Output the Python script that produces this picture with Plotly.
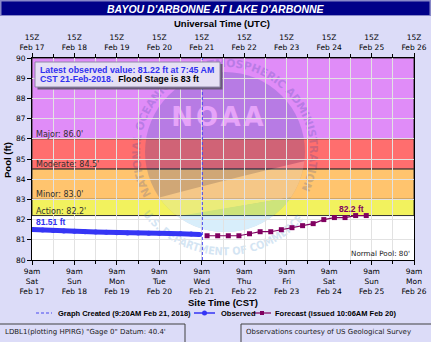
import base64
import pandas as pd
import plotly.graph_objects as go

# ---------------- data ----------------
obs_times = ["2018-02-17 09:00", "2018-02-17 15:00", "2018-02-17 21:00", "2018-02-18 03:00",
             "2018-02-18 09:00", "2018-02-18 15:00", "2018-02-18 21:00", "2018-02-19 03:00",
             "2018-02-19 09:00", "2018-02-19 15:00", "2018-02-19 21:00", "2018-02-20 03:00",
             "2018-02-20 09:00", "2018-02-20 15:00", "2018-02-20 21:00", "2018-02-21 03:00",
             "2018-02-21 07:45"]
obs_values = [81.51, 81.48, 81.46, 81.44, 81.42, 81.40, 81.38, 81.37,
              81.35, 81.34, 81.34, 81.33, 81.32, 81.31, 81.30, 81.29, 81.26]

fc_times = ["2018-02-21 12:00", "2018-02-21 18:00", "2018-02-22 00:00", "2018-02-22 06:00",
            "2018-02-22 12:00", "2018-02-22 18:00", "2018-02-23 00:00", "2018-02-23 06:00",
            "2018-02-23 12:00", "2018-02-23 18:00", "2018-02-24 00:00", "2018-02-24 06:00",
            "2018-02-24 12:00", "2018-02-24 18:00", "2018-02-25 00:00", "2018-02-25 06:00"]
fc_values = [81.2, 81.2, 81.2, 81.2, 81.3, 81.4, 81.4, 81.5,
             81.6, 81.7, 81.8, 82.0, 82.1, 82.1, 82.2, 82.2]

created_time = "2018-02-21 09:20"

stage_names = ["Major", "Moderate", "Minor", "Action"]
stage_values = [86.0, 84.5, 83.0, 82.2]
stage_tops = [90.0, 86.0, 84.5, 83.0]
stage_colors = ["#E08CF8", "#FF6E6E", "#FFC46E", "#F2F25E"]

day_dates = ["2018-02-17 09:00", "2018-02-18 09:00", "2018-02-19 09:00", "2018-02-20 09:00",
             "2018-02-21 09:00", "2018-02-22 09:00", "2018-02-23 09:00", "2018-02-24 09:00",
             "2018-02-25 09:00", "2018-02-26 09:00"]
day_names = ["Sat", "Sun", "Mon", "Tue", "Wed", "Thu", "Fri", "Sat", "Sun", "Mon"]
day_labels = ["Feb 17", "Feb 18", "Feb 19", "Feb 20", "Feb 21", "Feb 22", "Feb 23",
              "Feb 24", "Feb 25", "Feb 26"]

legend_labels = ["Graph Created (9:20AM Feb 21, 2018)", "Observed",
                 "Forecast (issued 10:06AM Feb 20)"]

x_start, x_end = "2018-02-17 09:00", "2018-02-26 09:00"
y_min, y_max = 80, 90

# ---------------- layout geometry ----------------
W, H = 431, 342
ML, MR, MT, MB = 32, 17, 58, 82
PW, PH = W - ML - MR, H - MT - MB
BG = "#DCDCF8"
OBS_COL = "#3535F5"
FC_COL = "#800060"
CR_COL = "#4848F0"


def px(xp):
    return (xp - ML) / PW


def py(yp):
    return (H - MB - yp) / PH


def note(x, y, text, font, xanchor="center", **kw):
    d = dict(xref="paper", yref="paper", x=x, y=y, text=text, font=font,
             xanchor=xanchor, yanchor="middle", showarrow=False)
    d.update(kw)
    return d


bottom_text = [f"9am<br>{d}<br>{l}" for d, l in zip(day_names, day_labels)]
top_text = [f"15Z<br>{l}" for l in day_labels]

fig = go.Figure()

fig.add_trace(go.Scatter(
    x=[created_time, created_time], y=[y_min, y_max], xaxis="x2", mode="lines",
    line=dict(color=CR_COL, width=1, dash="3px,2px"),
    name=legend_labels[0], hoverinfo="skip", showlegend=False))
fig.add_trace(go.Scatter(
    x=obs_times, y=obs_values, mode="lines+markers",
    line=dict(color=OBS_COL, width=5), marker=dict(size=5, color=OBS_COL),
    name=legend_labels[1], showlegend=False))
fig.add_trace(go.Scatter(
    x=fc_times, y=fc_values, mode="lines+markers",
    line=dict(color=FC_COL, width=1.2),
    marker=dict(symbol="square", size=5, color=FC_COL),
    name=legend_labels[2], showlegend=False))

shapes = []
annotations = []

# flood category bands
for name, val, top, col in zip(stage_names, stage_values, stage_tops, stage_colors):
    shapes.append(dict(type="rect", xref="paper", yref="y", x0=0, x1=1, y0=val, y1=top,
                       fillcolor=col, line=dict(color="#303030", width=1), layer="below"))
    annotations.append(dict(xref="paper", yref="y", x=0.005, y=val, yanchor="bottom",
                            xanchor="left", showarrow=False, yshift=-2,
                            text=f"{name}: {val:.1f}'",
                            font=dict(family="DejaVu Sans", size=8, color="#303030")))

# title bar
shapes.append(dict(type="rect", xref="paper", yref="paper", x0=px(0), x1=px(431),
                   y0=py(16), y1=py(0), fillcolor="#8888C8", line=dict(width=0)))
shapes.append(dict(type="rect", xref="paper", yref="paper", x0=px(1.5), x1=px(429.5),
                   y0=py(15), y1=py(1.5), fillcolor="#000088", line=dict(width=0)))
annotations.append(note(px(215.5), py(8.5), "<b><i>BAYOU D'ARBONNE AT LAKE D'ARBONNE</i></b>",
                        dict(family="Liberation Sans", size=10.5, color="white")))
annotations.append(note(px(221.5), py(23), "<b>Universal Time (UTC)</b>",
                        dict(family="Liberation Sans", size=9.5, color="black")))
annotations.append(note(0.5, py(302), "<b>Site Time (CST)</b>",
                        dict(family="Liberation Sans", size=9.5, color="black")))
annotations.append(note(px(7), py(160), "<b>Pool (ft)</b>",
                        dict(family="Liberation Sans", size=9.5, color="black"), textangle=-90))

# latest value box
shapes.append(dict(type="rect", xref="paper", yref="paper", x0=px(37.5), x1=px(222.5),
                   y0=py(89.5), y1=py(64), fillcolor="#6A5A7A", line=dict(width=0)))
shapes.append(dict(type="rect", xref="paper", yref="paper", x0=px(35), x1=px(220),
                   y0=py(87), y1=py(62), fillcolor="#E6E0F4",
                   line=dict(color="#9088A8", width=1)))
box_font = dict(family="Liberation Sans", size=8.8, color="#3030F0")
annotations.append(note(px(38), py(70), "<b>Latest observed value: 81.22 ft at 7:45 AM</b>",
                        box_font, xanchor="left"))
annotations.append(note(px(38), py(79),
                        "<b>CST 21-Feb-2018.</b>  <b><span style='color:black'>Flood Stage is 83 ft</span></b>",
                        box_font, xanchor="left"))

# value labels
annotations.append(dict(x=obs_times[0], y=obs_values[0], xanchor="left", yanchor="middle",
                        yshift=8, xshift=2, showarrow=False, text="<b>81.51 ft</b>",
                        font=dict(family="Liberation Sans", size=8.5, color="#3030F0")))
annotations.append(dict(x=fc_times[-1], y=fc_values[-1], xanchor="right", yanchor="middle",
                        yshift=7, showarrow=False, text="<b>82.2 ft</b>",
                        font=dict(family="Liberation Sans", size=8.5, color=FC_COL)))
annotations.append(dict(xref="paper", yref="y", x=0.995, y=y_min, xanchor="right",
                        yanchor="bottom", yshift=0, showarrow=False, text="Normal Pool: 80'",
                        font=dict(family="DejaVu Sans", size=7.2, color="#202020")))

# legend (drawn as layout items, one row)
leg_y = py(313)
leg_font = dict(family="Liberation Sans", size=7.5, color="black")
shapes.append(dict(type="line", xref="paper", yref="paper", x0=px(36), x1=px(52),
                   y0=leg_y, y1=leg_y, line=dict(color=CR_COL, width=1, dash="3px,2px")))
annotations.append(note(px(56), leg_y, f"<b>{legend_labels[0]}</b>", leg_font, xanchor="left"))
shapes.append(dict(type="line", xref="paper", yref="paper", x0=px(194), x1=px(215),
                   y0=leg_y, y1=leg_y, line=dict(color=OBS_COL, width=1.5)))
shapes.append(dict(type="circle", xref="paper", yref="paper", x0=px(202), x1=px(207),
                   y0=leg_y - 2.5 / PH, y1=leg_y + 2.5 / PH, fillcolor=OBS_COL,
                   line=dict(width=0)))
annotations.append(note(px(219), leg_y, f"<b>{legend_labels[1]}</b>", leg_font, xanchor="left"))
shapes.append(dict(type="line", xref="paper", yref="paper", x0=px(253), x1=px(271),
                   y0=leg_y, y1=leg_y, line=dict(color=FC_COL, width=1.2)))
shapes.append(dict(type="rect", xref="paper", yref="paper", x0=px(260), x1=px(264),
                   y0=leg_y - 2 / PH, y1=leg_y + 2 / PH, fillcolor=FC_COL,
                   line=dict(width=0)))
annotations.append(note(px(273), leg_y, f"<b>{legend_labels[2]}</b>", leg_font, xanchor="left"))

# footer boxes
shapes.append(dict(type="rect", xref="paper", yref="paper", x0=px(-2), x1=px(185),
                   y0=py(350), y1=py(324), fillcolor=BG, line=dict(color="#404040", width=1)))
shapes.append(dict(type="rect", xref="paper", yref="paper", x0=px(241), x1=px(440),
                   y0=py(350), y1=py(324), fillcolor=BG, line=dict(color="#404040", width=1)))
foot_font = dict(family="DejaVu Sans", size=7, color="#202020")
annotations.append(note(px(3), py(332), "LDBL1(plotting HPIRG) \"Gage 0\" Datum: 40.4'",
                        foot_font, xanchor="left"))
annotations.append(note(px(244), py(332), "Observations courtesy of US Geological Survey",
                        foot_font, xanchor="left"))

# NOAA watermark seal (decorative)
svg = """<svg xmlns='http://www.w3.org/2000/svg' width='220' height='220' viewBox='0 0 220 220'>
<defs>
<clipPath id='c'><circle cx='110' cy='110' r='80'/></clipPath>
<path id='top' d='M 36.4,152.5 A 85,85 0 1,1 183.6,152.5'/>
<path id='bot' d='M 27.5,172 A 103,103 0 0,0 192.5,172'/>
</defs>
<circle cx='110' cy='110' r='80' fill='#1A3A9A'/>
<g clip-path='url(#c)'>
<path d='M 10,165 Q 100,140 220,112 L 220,148 Q 110,166 10,185 Z' fill='#FFFFFF' fill-opacity='0.8'/>
<path d='M 0,185 Q 110,166 220,148 L 220,220 L 0,220 Z' fill='#40B0EE'/>
</g>
<text x='104' y='84' text-anchor='middle' font-family='DejaVu Sans' font-weight='bold' font-size='26' letter-spacing='3' fill='#FFFFFF'>NOAA</text>
<text font-family='DejaVu Sans' font-weight='bold' font-size='11' fill='#203C9C'><textPath href='#top' textLength='350' lengthAdjust='spacingAndGlyphs'>NATIONAL OCEANIC AND ATMOSPHERIC ADMINISTRATION</textPath></text>
<text font-family='DejaVu Sans' font-weight='bold' font-size='11' fill='#3080C8'><textPath href='#bot' textLength='185' lengthAdjust='spacingAndGlyphs'>U.S. DEPARTMENT OF COMMERCE</textPath></text>
</svg>"""
svg_uri = "data:image/svg+xml;base64," + base64.b64encode(svg.encode()).decode()
t0 = pd.Timestamp(x_start)
px_per_day = PW / ((pd.Timestamp(x_end) - t0).total_seconds() / 86400)
px_per_ft = PH / (y_max - y_min)
img_x = t0 + pd.Timedelta(days=(115 - ML) / px_per_day)
fig.add_layout_image(dict(source=svg_uri, xref="x", yref="y", x=img_x,
                          y=y_min + (H - MB - 42) / px_per_ft,
                          sizex=220 / px_per_day * 86400000, sizey=220 / px_per_ft,
                          xanchor="left", yanchor="top", sizing="stretch",
                          opacity=0.2, layer="below"))

tick_font = dict(family="DejaVu Sans", size=7.5, color="black")
fig.update_layout(
    width=W, height=H, margin=dict(l=ML, r=MR, t=MT, b=MB, autoexpand=False),
    paper_bgcolor=BG, plot_bgcolor="white",
    font=dict(family="DejaVu Sans", size=8, color="black"),
    shapes=shapes, annotations=annotations,
    showlegend=False,
    xaxis=dict(type="date", range=[x_start, x_end], tickvals=day_dates, ticktext=bottom_text,
               ticks="outside", ticklen=4, tickcolor="black", showline=True,
               linecolor="black", linewidth=1, tickfont=tick_font, showgrid=True,
               gridcolor="#E2E2E2", gridwidth=1, tickangle=0, automargin=False,
               minor=dict(dtick=43200000, tick0=x_start, ticks="outside", ticklen=3,
                          tickcolor="black", showgrid=True, gridcolor="#E2E2E2"),
               zeroline=False, fixedrange=True),
    xaxis2=dict(type="date", matches="x", overlaying="x", side="top", tickvals=day_dates,
                ticktext=top_text, ticks="outside", ticklen=4, tickcolor="black",
                showline=True, linecolor="black", linewidth=1, tickfont=tick_font,
                showgrid=False, tickangle=0, automargin=False,
                minor=dict(dtick=43200000, tick0=x_start, ticks="outside", ticklen=3,
                           tickcolor="black", showgrid=False)),
    yaxis=dict(range=[y_min, y_max], dtick=1, ticks="outside", ticklen=4, tickcolor="black",
               showline=True, linecolor="black", linewidth=1, mirror=True, automargin=False,
               tickfont=tick_font, showgrid=True, gridcolor="#E2E2E2", zeroline=False),
)

fig.write_html("out.html")
